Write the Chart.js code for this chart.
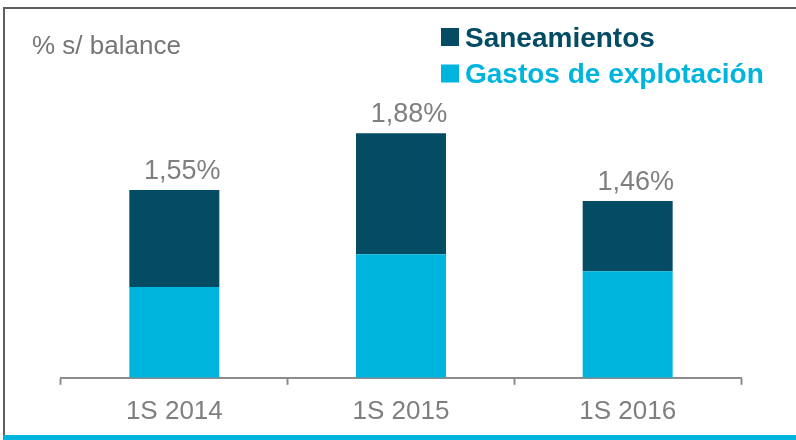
<!DOCTYPE html>
<html>
<head>
<meta charset="utf-8">
<script src="https://cdn.jsdelivr.net/npm/chart.js@4.4.0/dist/chart.umd.min.js"></script>
<style>
  html, body { margin: 0; padding: 0; background: #ffffff; }
  #wrap { width: 796px; height: 440px; position: relative; }
</style>
</head>
<body>
<div id="wrap"><canvas id="c" width="796" height="440"></canvas></div>
<script>
// ---- Data ----
const categories = ['1S 2014', '1S 2015', '1S 2016'];
const gastosExplotacion = [0.75, 1.02, 0.88];
const saneamientos = [0.80, 1.00, 0.58];
const totalLabels = ['1,55%', '1,88%', '1,46%'];
const seriesNames = ['Gastos de explotación', 'Saneamientos'];
const unitLabel = '% s/ balance';

const DARK = '#034c64';
const CYAN = '#00b5dd';
const GRAY = '#7f7f7f';
const FONT = '"Liberation Sans", Arial, sans-serif';

const decorPlugin = {
  id: 'decor',
  beforeDraw(chart) {
    const ctx = chart.ctx;
    ctx.save();
    ctx.fillStyle = '#ffffff';
    ctx.fillRect(0, 0, chart.width, chart.height);
    // frame
    ctx.fillStyle = '#5f5f5f';
    ctx.fillRect(3, 7, 793, 2);
    ctx.fillRect(3, 7, 2, 428);
    ctx.fillStyle = CYAN;
    ctx.fillRect(3, 435, 793, 5);
    // unit label
    ctx.fillStyle = '#767676';
    ctx.font = '26px ' + FONT;
    ctx.textBaseline = 'alphabetic';
    ctx.textAlign = 'left';
    ctx.fillText(unitLabel, 32, 54);
    ctx.restore();
  },
  afterDatasetsDraw(chart) {
    const ctx = chart.ctx;
    ctx.save();
    // total labels above stacks
    const topMeta = chart.getDatasetMeta(chart.data.datasets.length - 1);
    ctx.fillStyle = GRAY;
    ctx.font = '27px ' + FONT;
    ctx.textAlign = 'center';
    ctx.textBaseline = 'alphabetic';
    topMeta.data.forEach((bar, i) => {
      ctx.fillText(totalLabels[i], bar.x + 8, bar.y - 11);
    });
    // legend (top series first)
    const items = chart.data.datasets.map(d => ({ label: d.label, color: d.backgroundColor })).reverse();
    ctx.font = 'bold 28px ' + FONT;
    ctx.textAlign = 'left';
    items.forEach((it, i) => {
      const y0 = 28 + i * 36.5;
      ctx.fillStyle = it.color;
      ctx.fillRect(441, y0, 18, 18);
      ctx.fillText(it.label, 465, y0 + 18.5);
    });
    ctx.restore();
  }
};

new Chart(document.getElementById('c'), {
  type: 'bar',
  data: {
    labels: categories,
    datasets: [
      { label: seriesNames[0], data: gastosExplotacion, backgroundColor: CYAN, borderWidth: 0 },
      { label: seriesNames[1], data: saneamientos, backgroundColor: DARK, borderWidth: 0 }
    ]
  },
  options: {
    responsive: false,
    animation: false,
    devicePixelRatio: 1,
    layout: { padding: { left: 61, right: 55, top: 75, bottom: 2 } },
    plugins: { legend: { display: false }, tooltip: { enabled: false }, title: { display: false } },
    datasets: { bar: { categoryPercentage: 1.0, barPercentage: 0.397 } },
    scales: {
      x: {
        stacked: true,
        grid: { display: true, drawOnChartArea: false, drawTicks: true, tickLength: 7, tickWidth: 2, tickColor: '#8c8c8c', offset: true },
        border: { display: true, color: '#8c8c8c', width: 2 },
        ticks: { color: GRAY, font: { family: FONT, size: 26 }, padding: 11, maxRotation: 0 }
      },
      y: {
        stacked: true,
        display: false,
        min: 0,
        max: 2.5
      }
    }
  },
  plugins: [decorPlugin]
});
</script>
</body>
</html>
